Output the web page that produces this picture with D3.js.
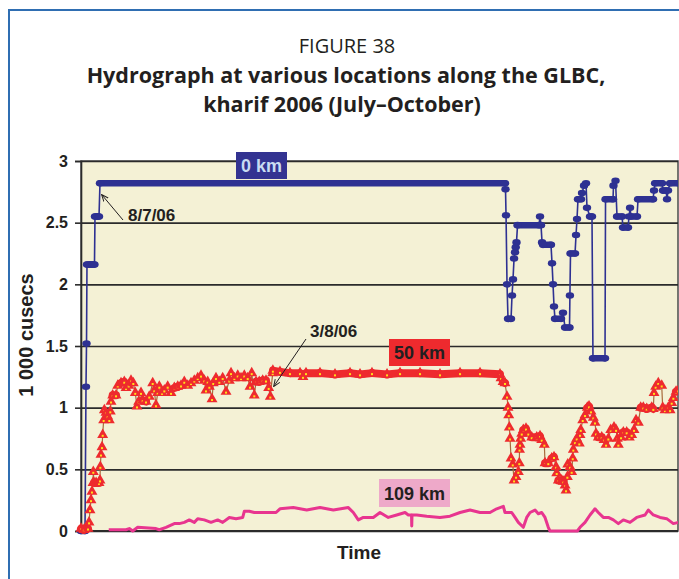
<!DOCTYPE html>
<html>
<head>
<meta charset="utf-8">
<script src="https://cdn.jsdelivr.net/npm/d3@7"></script>
<style>
  body { margin: 0; background: #fff; }
</style>
</head>
<body>
<div class="chart"></div>
<script>
const width = 679;
const height = 579;
const plot = {left: 81, right: 678, top: 161, bottom: 531};

// values in 1 000 cusecs, days counted from 5 July 2006
const yTicks = [0, 0.5, 1, 1.5, 2, 2.5, 3];
const dayDomain = [0, 91];

const km0 = [
  [0, 0], [0.61, 0], [0.76, 1.17], [0.84, 1.52], [0.91, 2.16], [1.3, 2.16], [1.7, 2.16], [2.05, 2.16],
  [2.13, 2.55], [2.45, 2.55], [2.74, 2.55], [2.89, 2.82], [64.52, 2.82], [64.6, 2.77], [64.68, 2.56],
  [64.83, 2.0], [64.98, 1.72], [65.44, 1.72], [65.59, 1.91], [65.74, 2.04], [65.9, 2.21], [66.05, 2.26],
  [66.15, 2.3], [66.27, 2.34], [66.43, 2.48], [69.7, 2.48], [69.85, 2.55], [70.0, 2.48], [70.16, 2.34],
  [70.31, 2.32], [71.52, 2.32], [71.68, 2.17], [71.83, 2.0], [71.98, 1.82], [72.13, 1.72], [73.05, 1.72],
  [73.35, 1.77], [73.66, 1.65], [74.34, 1.65], [74.4, 1.91], [74.49, 2.25], [75.18, 2.25], [75.33, 2.4],
  [75.48, 2.53], [75.63, 2.69], [76.09, 2.69], [76.24, 2.74], [76.55, 2.8], [76.85, 2.82], [77.0, 2.62],
  [77.46, 2.55], [77.76, 2.55], [77.91, 1.4], [79.74, 1.4], [79.82, 2.69], [80.96, 2.69], [81.03, 2.8],
  [81.34, 2.84], [81.57, 2.55], [82.33, 2.55], [82.48, 2.46], [83.24, 2.46], [83.4, 2.55], [83.55, 2.62],
  [83.7, 2.55], [84.61, 2.55], [84.77, 2.69], [87.05, 2.69], [87.2, 2.76], [87.36, 2.82], [88.42, 2.82],
  [88.57, 2.76], [89.03, 2.76], [89.18, 2.69], [89.33, 2.76], [89.64, 2.82], [91, 2.82]
];

const km50 = [
  [0, 0.02], [0.44, 0.01], [1.07, 0.02], [1.22, 0.07], [1.37, 0.17], [1.52, 0.25], [1.67, 0.32],
  [1.83, 0.39], [1.87, 0.48], [1.98, 0.39], [2.3, 0.39], [2.74, 0.39], [2.89, 0.41], [2.94, 0.52],
  [3.04, 0.62], [3.2, 0.68], [3.3, 0.78], [3.45, 0.9], [3.55, 0.98], [3.8, 0.96], [4.06, 0.93],
  [4.31, 0.9], [4.46, 0.97], [4.57, 1.05], [4.82, 1.1], [5.33, 1.1], [5.59, 1.18], [6.09, 1.2],
  [6.59, 1.21], [6.85, 1.16], [7.26, 1.18], [7.61, 1.22], [7.96, 1.2], [8.26, 1.12], [8.52, 1.01],
  [8.78, 1.05], [9.13, 1.12], [9.39, 1.06], [9.89, 1.05], [10.39, 1.09], [10.91, 1.2], [11.15, 1.14],
  [11.41, 1.02], [11.67, 1.12], [11.92, 1.17], [12.33, 1.12], [12.68, 1.14], [13.19, 1.17], [13.7, 1.12],
  [14.2, 1.16], [14.72, 1.17], [15.22, 1.18], [15.72, 1.21], [16.24, 1.18], [16.74, 1.2], [17.24, 1.22],
  [17.76, 1.24], [18.26, 1.26], [18.76, 1.22], [19.02, 1.14], [19.28, 1.21], [19.53, 1.17], [19.94, 1.07],
  [20.13, 1.2], [20.54, 1.24], [21.05, 1.21], [21.56, 1.24], [22.07, 1.13], [22.57, 1.22], [22.83, 1.28],
  [23.33, 1.24], [23.85, 1.26], [24.35, 1.24], [24.85, 1.26], [25.37, 1.24], [25.72, 1.17], [25.98, 1.28],
  [26.37, 1.1], [26.63, 1.21], [27.13, 1.21], [27.65, 1.22], [28.15, 1.22], [28.56, 1.16], [28.81, 1.09],
  [29.17, 1.28], [29.2, 1.3], [30.28, 1.29], [31.8, 1.28], [33.33, 1.28], [33.78, 1.25], [34.24, 1.28],
  [36.37, 1.28], [38.65, 1.27], [40.94, 1.28], [42.46, 1.27], [44.28, 1.28], [46.57, 1.27], [48.55, 1.28],
  [51.59, 1.28], [54.63, 1.27], [57.68, 1.28], [60.72, 1.28], [63.76, 1.27], [63.92, 1.24], [64.22, 1.21],
  [64.52, 1.2], [64.83, 1.09], [64.98, 1.0], [65.09, 0.94], [65.18, 0.84], [65.29, 0.75], [65.44, 0.59],
  [65.7, 0.54], [65.9, 0.41], [66.2, 0.44], [66.55, 0.48], [66.7, 0.55], [66.73, 0.66], [66.81, 0.7],
  [66.91, 0.75], [67.07, 0.79], [67.31, 0.82], [67.72, 0.83], [68.07, 0.79], [68.59, 0.76], [69.35, 0.76],
  [69.85, 0.77], [70.11, 0.74], [70.51, 0.7], [70.61, 0.55], [71.11, 0.55], [71.63, 0.59], [71.98, 0.6],
  [72.29, 0.52], [72.39, 0.47], [72.64, 0.41], [73.15, 0.41], [73.4, 0.4], [73.66, 0.37], [73.81, 0.33],
  [74.01, 0.44], [74.07, 0.54], [74.42, 0.52], [74.67, 0.48], [74.83, 0.59], [74.92, 0.66], [75.18, 0.72],
  [75.44, 0.75], [75.83, 0.71], [75.94, 0.78], [76.05, 0.82], [76.35, 0.9], [76.7, 0.94], [77.05, 1.0],
  [77.31, 1.01], [77.61, 0.97], [77.96, 0.92], [78.22, 0.88], [78.37, 0.79], [78.72, 0.76], [79.24, 0.76],
  [79.59, 0.74], [79.9, 0.7], [80.25, 0.75], [80.61, 0.82], [81.11, 0.84], [81.42, 0.82], [81.62, 0.75],
  [81.77, 0.7], [82.18, 0.76], [82.53, 0.8], [83.04, 0.8], [83.44, 0.76], [83.8, 0.78], [84.16, 0.82],
  [84.46, 0.9], [84.81, 0.88], [85.17, 1.0], [85.57, 1.0], [86.09, 0.99], [86.85, 1.0], [87.09, 0.99],
  [87.2, 1.12], [87.45, 1.17], [87.85, 1.2], [88.37, 1.18], [88.52, 1.0], [88.87, 0.98], [89.37, 1.0],
  [89.64, 0.98], [89.89, 1.04], [90.14, 1.08], [90.55, 1.13], [90.9, 1.14]
];

const km109 = [
  [4.22, 0.01], [6.85, 0.01], [7.35, 0.02], [7.87, 0.0], [8.63, 0.03], [11.41, 0.02], [11.92, 0.01],
  [12.94, 0.03], [14.2, 0.06], [14.96, 0.06], [15.72, 0.07], [16.48, 0.09], [17.24, 0.07], [17.76, 0.1],
  [18.76, 0.09], [19.78, 0.07], [20.8, 0.09], [21.56, 0.07], [22.57, 0.11], [23.59, 0.1], [24.61, 0.11],
  [24.85, 0.16], [25.61, 0.16], [26.37, 0.15], [27.13, 0.15], [27.89, 0.15], [28.65, 0.15], [29.68, 0.15],
  [30.28, 0.18], [32.31, 0.19], [34.35, 0.17], [36.37, 0.19], [38.4, 0.17], [40.68, 0.19], [41.44, 0.15],
  [42.2, 0.09], [42.96, 0.11], [44.48, 0.11], [45.5, 0.15], [46.76, 0.11], [48.04, 0.13], [49.31, 0.15],
  [49.81, 0.13], [50.3, 0.13], [50.33, 0.04], [50.37, 0.13], [51.09, 0.13], [52.61, 0.12], [54.63, 0.11],
  [56.15, 0.12], [57.68, 0.15], [59.2, 0.17], [60.72, 0.15], [62.24, 0.15], [63.26, 0.18], [64.27, 0.2],
  [64.52, 0.15], [65.54, 0.15], [66.05, 0.11], [66.55, 0.07], [67.31, 0.03], [67.83, 0.11], [68.33, 0.15],
  [69.09, 0.17], [69.59, 0.14], [70.11, 0.15], [70.61, 0.11], [71.11, 0.03], [71.37, 0.0], [75.53, 0.0],
  [75.94, 0.03], [76.7, 0.07], [77.46, 0.13], [78.22, 0.18], [78.72, 0.15], [79.48, 0.11], [80.25, 0.11],
  [81.01, 0.09], [81.77, 0.06], [82.53, 0.09], [83.55, 0.07], [84.56, 0.11], [85.83, 0.13], [86.33, 0.17],
  [87.09, 0.13], [88.11, 0.11], [89.13, 0.1], [90.14, 0.06], [91, 0.07]
];

const seriesLabels = ['0 km', '50 km', '109 km'];
const dateNotes = ['8/7/06', '3/8/06'];

const svg = d3
    .select('div.chart')
    .append('svg')
    .attr('width', width)
    .attr('height', height)
    .style('font-family', 'Liberation Sans, Arial, sans-serif');

// page frame
svg.append('path')
    .attr('d', 'M9,' + height + 'V10H' + width)
    .attr('fill', 'none')
    .attr('stroke', '#2f6eb2')
    .attr('stroke-width', 2);

// titles
svg.append('text')
    .attr('x', 347).attr('y', 53)
    .attr('text-anchor', 'middle')
    .style('font-family', 'Open Sans, sans-serif')
    .style('font-size', '20px')
    .attr('fill', '#231f20')
    .text('FIGURE 38');

svg.append('text')
    .attr('x', 346).attr('y', 83)
    .attr('text-anchor', 'middle')
    .style('font-family', 'Open Sans, sans-serif')
    .style('font-weight', 'bold')
    .style('font-size', '21.5px')
    .attr('fill', '#231f20')
    .text('Hydrograph at various locations along the GLBC,');

svg.append('text')
    .attr('x', 342).attr('y', 112)
    .attr('text-anchor', 'middle')
    .style('font-family', 'Open Sans, sans-serif')
    .style('font-weight', 'bold')
    .style('font-size', '21.5px')
    .attr('fill', '#231f20')
    .text('kharif 2006 (July\u2013October)');

const x = d3.scaleLinear().domain(dayDomain).range([plot.left, width]);
const y = d3.scaleLinear().domain([0, 3]).range([plot.bottom, plot.top]);

// plot area
svg.append('rect')
    .attr('x', plot.left).attr('y', plot.top)
    .attr('width', plot.right - plot.left)
    .attr('height', plot.bottom - plot.top)
    .attr('fill', '#f4f1d5')
    .attr('stroke', '#4a4a4a')
    .attr('stroke-width', 1.5);

// grid
svg.append('g')
    .attr('transform', 'translate(' + plot.left + ',0)')
    .call(d3.axisLeft(y).tickValues(yTicks).tickSize(-(plot.right - plot.left)).tickFormat(''))
    .call((g) => g.select('.domain').remove())
    .call((g) => g.selectAll('line').attr('stroke', '#2b2b2b').attr('stroke-width', 1.6));

// axis with ticks
svg.append('g')
    .attr('transform', 'translate(' + plot.left + ',0)')
    .call(d3.axisLeft(y).tickValues(yTicks).tickSize(6).tickPadding(7).tickFormat(d3.format('')))
    .call((g) => g.select('.domain').attr('stroke', '#2b2b2b').attr('stroke-width', 1.6))
    .call((g) => g.selectAll('line').attr('stroke', '#2b2b2b').attr('stroke-width', 1.6))
    .call((g) => g.selectAll('text')
        .attr('fill', '#231f20')
        .style('font-family', 'Liberation Sans, Arial, sans-serif')
        .style('font-weight', 'bold')
        .style('font-size', '16px'));

// bottom line
svg.append('line')
    .attr('x1', plot.left).attr('x2', plot.right)
    .attr('y1', y(0)).attr('y2', y(0))
    .attr('stroke', '#2b2b2b').attr('stroke-width', 2);

// axis titles
svg.append('text')
    .attr('transform', 'translate(33,' + 335 + ') rotate(-90)')
    .attr('text-anchor', 'middle')
    .style('font-weight', 'bold')
    .style('font-size', '20px')
    .attr('fill', '#231f20')
    .text('1 000 cusecs');

svg.append('text')
    .attr('x', 359).attr('y', 559)
    .attr('text-anchor', 'middle')
    .style('font-weight', 'bold')
    .style('font-size', '19px')
    .attr('fill', '#231f20')
    .text('Time');

const line = d3.line()
    .x((d) => x(d[0]))
    .y((d) => y(d[1]));

// runs of (near) equal readings look like a solid bar of markers
function flatRuns(data, tol) {
  const runs = [];
  for (let i = 1; i < data.length; i++) {
    if (Math.abs(data[i][1] - data[i - 1][1]) <= tol) runs.push([data[i - 1], data[i]]);
  }
  return runs;
}

svg.append('clipPath').attr('id', 'clip')
    .append('rect')
    .attr('x', plot.left - 6).attr('y', plot.top - 6)
    .attr('width', plot.right - plot.left + 6).attr('height', plot.bottom - plot.top + 12);

const layer = svg.append('g').attr('clip-path', 'url(#clip)');

// 0 km
const blue = '#2e3192';
layer.append('path')
    .datum(km0)
    .attr('d', line)
    .attr('fill', 'none')
    .attr('stroke', blue)
    .attr('stroke-width', 1.6);

layer.selectAll('.run0')
    .data(flatRuns(km0, 0.001))
    .enter()
    .append('path')
    .attr('class', 'run0')
    .attr('d', line)
    .attr('stroke', blue)
    .attr('stroke-width', 6.5)
    .attr('stroke-linecap', 'round');

layer.selectAll('.dot0')
    .data(km0)
    .enter()
    .append('ellipse')
    .attr('class', 'dot0')
    .attr('cx', (d) => x(d[0]))
    .attr('cy', (d) => y(d[1]))
    .attr('rx', 4.2)
    .attr('ry', 3.3)
    .attr('fill', blue);

// 50 km
const red = '#ee2a2e';
layer.append('path')
    .datum(km50)
    .attr('d', line)
    .attr('fill', 'none')
    .attr('stroke', '#a86a3c')
    .attr('stroke-width', 1.2);

layer.selectAll('.run50')
    .data(flatRuns(km50, 0.015))
    .enter()
    .append('path')
    .attr('class', 'run50')
    .attr('d', line)
    .attr('stroke', red)
    .attr('stroke-width', 8)
    .attr('stroke-linecap', 'round');

const tri = d3.symbol().type(d3.symbolTriangle).size(52);
const marks = layer.selectAll('.mk50')
    .data(km50)
    .enter()
    .append('g')
    .attr('class', 'mk50')
    .attr('transform', (d) => 'translate(' + x(d[0]) + ',' + y(d[1]) + ')');

marks.append('path').attr('d', tri).attr('fill', red);
marks.append('rect')
    .attr('x', -1).attr('y', 0)
    .attr('width', 2).attr('height', 2)
    .attr('fill', '#ffe11a');

// 109 km
layer.append('path')
    .datum(km109)
    .attr('d', line)
    .attr('fill', 'none')
    .attr('stroke', '#e8358f')
    .attr('stroke-width', 3)
    .attr('stroke-linejoin', 'round');

// series labels
const boxes = [
  {label: seriesLabels[0], x: 236, y: 152, w: 51, h: 27, fill: '#333391', color: '#c9dcf2'},
  {label: seriesLabels[1], x: 389, y: 339, w: 61, h: 27, fill: '#ee2a2e', color: '#231f20'},
  {label: seriesLabels[2], x: 379, y: 479, w: 71, h: 28, fill: '#eea9c9', color: '#231f20'}
];

const box = svg.selectAll('.box')
    .data(boxes)
    .enter()
    .append('g')
    .attr('class', 'box');

box.append('rect')
    .attr('x', (d) => d.x).attr('y', (d) => d.y)
    .attr('width', (d) => d.w).attr('height', (d) => d.h)
    .attr('fill', (d) => d.fill);

box.append('text')
    .attr('x', (d) => d.x + d.w / 2)
    .attr('y', (d) => d.y + d.h / 2 + 6.5)
    .attr('text-anchor', 'middle')
    .style('font-weight', 'bold')
    .style('font-size', '18px')
    .attr('fill', (d) => d.color)
    .text((d) => d.label);

// date notes with arrows
svg.append('defs').append('marker')
    .attr('id', 'head')
    .attr('viewBox', '0 0 10 10')
    .attr('refX', 9).attr('refY', 5)
    .attr('markerWidth', 7).attr('markerHeight', 7)
    .attr('orient', 'auto')
    .append('path')
    .attr('d', 'M0,1L10,5L0,9')
    .attr('fill', 'none')
    .attr('stroke', '#231f20')
    .attr('stroke-width', 1.4);

const notes = [
  {label: dateNotes[0], tx: 128, ty: 221, from: [123, 220], to: [102, 195]},
  {label: dateNotes[1], tx: 310, ty: 337, from: [306, 339], to: [274, 386]}
];

notes.forEach((n) => {
  svg.append('line')
      .attr('x1', n.from[0]).attr('y1', n.from[1])
      .attr('x2', n.to[0]).attr('y2', n.to[1])
      .attr('stroke', '#231f20')
      .attr('stroke-width', 1)
      .attr('marker-end', 'url(#head)');
  svg.append('text')
      .attr('x', n.tx).attr('y', n.ty)
      .style('font-weight', 'bold')
      .style('font-size', '17px')
      .attr('fill', '#231f20')
      .text(n.label);
});
</script>
</body>
</html>
